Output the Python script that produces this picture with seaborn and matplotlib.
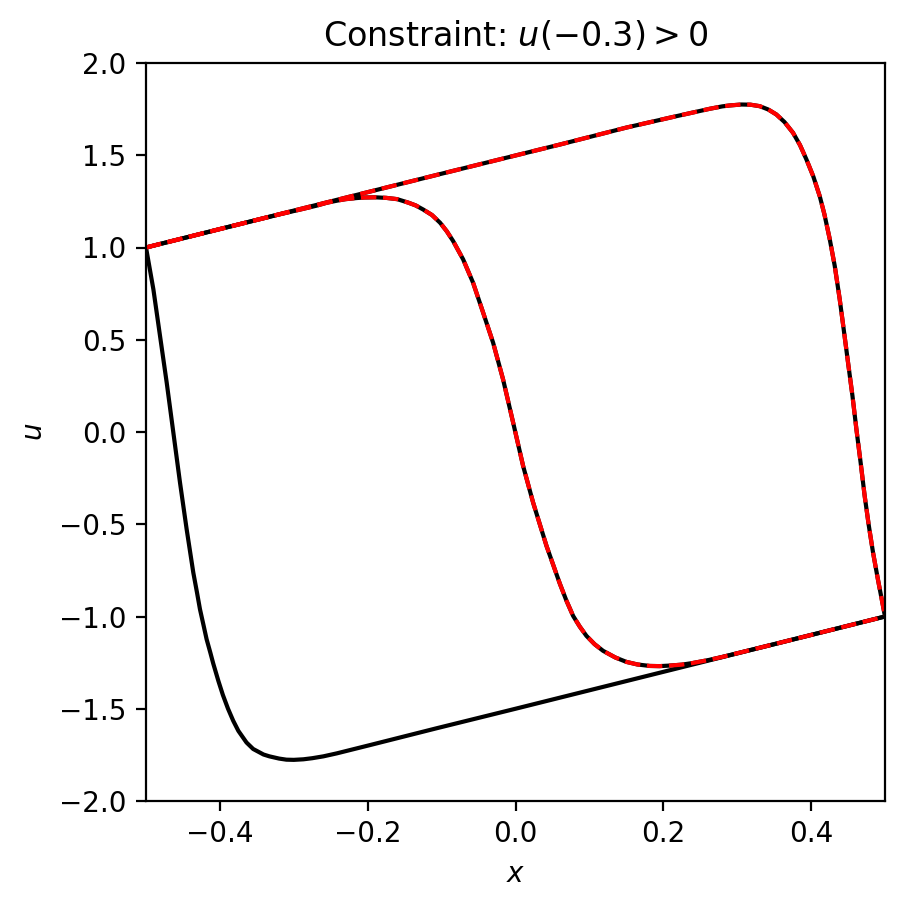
import pandas as pd
import matplotlib
matplotlib.use("Agg")
import matplotlib.pyplot as plt
import seaborn as sns

# curve with the interface near the left boundary (black only)
x_a = [-0.5, -0.49, -0.481, -0.472, -0.463, -0.454, -0.445, -0.436, -0.431,
       -0.427, -0.422, -0.418, -0.413, -0.409, -0.402, -0.396, -0.389, -0.382,
       -0.375, -0.364, -0.355, -0.341, -0.333, -0.32, -0.31, -0.3, -0.287,
       -0.275, -0.26, -0.242, -0.197, -0.107, 0.0, 0.2, 0.5]
u_a = [1.0, 0.773, 0.52, 0.268, -0.003, -0.274, -0.527, -0.762, -0.87,
       -0.96, -1.05, -1.123, -1.195, -1.255, -1.35, -1.425, -1.5, -1.565,
       -1.62, -1.683, -1.718, -1.748, -1.758, -1.77, -1.776, -1.777, -1.774,
       -1.768, -1.758, -1.742, -1.697, -1.606, -1.5, -1.3, -1.0]

# curve with the interface in the middle
x_b = [-0.5, -0.4, -0.319, -0.29, -0.27, -0.255, -0.24, -0.23, -0.215, -0.205,
       -0.19, -0.175, -0.16, -0.145, -0.135, -0.125, -0.113, -0.102, -0.093,
       -0.0844, -0.0709, -0.0574, -0.0438, -0.0303, -0.0168, -0.0032, 0.0103,
       0.0238, 0.042, 0.06, 0.069, 0.078, 0.087, 0.096, 0.107, 0.1185, 0.135,
       0.15, 0.165, 0.1817, 0.195, 0.2087, 0.225, 0.24, 0.26, 0.28, 0.35,
       0.42, 0.5]
u_b = [1.0, 1.1, 1.18, 1.207, 1.226, 1.243, 1.255, 1.262, 1.268, 1.271,
       1.272, 1.269, 1.262, 1.243, 1.228, 1.206, 1.176, 1.134, 1.088,
       1.035, 0.936, 0.809, 0.647, 0.484, 0.285, 0.051, -0.184,
       -0.382, -0.618, -0.822, -0.915, -0.997, -1.055, -1.105, -1.15, -1.186, -1.222,
       -1.246, -1.26, -1.268, -1.269, -1.266, -1.261, -1.252, -1.237, -1.219, -1.15,
       -1.08, -1.0]

# curve with the interface near the right boundary
x_c = [-0.5, -0.3, -0.1, 0.06, 0.15, 0.218, 0.263, 0.28, 0.29, 0.3057, 0.318,
       0.3305, 0.342, 0.353, 0.364, 0.3755, 0.385, 0.3937, 0.403, 0.4117,
       0.418, 0.425, 0.432, 0.4387, 0.444, 0.45, 0.456, 0.4613, 0.467, 0.4725,
       0.478, 0.4838, 0.49, 0.4951, 0.5]
u_c = [1.0, 1.2, 1.4, 1.558, 1.65, 1.712, 1.752, 1.765, 1.77, 1.775, 1.774,
       1.766, 1.748, 1.721, 1.68, 1.622, 1.555, 1.477, 1.385, 1.278,
       1.18, 1.05, 0.9, 0.72, 0.56, 0.376, 0.195, 0.015, -0.165, -0.347,
       -0.505, -0.653, -0.79, -0.897, -1.0]

df_a = pd.DataFrame({"x": x_a, "u": u_a})
df_b = pd.DataFrame({"x": x_b, "u": u_b})
df_c = pd.DataFrame({"x": x_c, "u": u_c})

fig = plt.figure(figsize=(905 / 200, 909 / 200), dpi=200)
ax = fig.add_axes([146 / 905, 108 / 909, 739 / 905, 738 / 909])

# all solutions in black
for d in [df_a, df_b, df_c]:
    sns.lineplot(data=d, x="x", y="u", color="black", lw=1.5,
                 estimator=None, sort=False, ax=ax)

# solutions satisfying the constraint, red dashed on top
for d in [df_b, df_c]:
    sns.lineplot(data=d, x="x", y="u", color="red", lw=1.5, linestyle="--",
                 estimator=None, sort=False, ax=ax)

ax.set_xlim(-0.5, 0.5)
ax.set_ylim(-2.0, 2.0)
ax.set_title(r"Constraint: $u(-0.3) > 0$")
ax.set_xlabel("$x$")
ax.set_ylabel("$u$")

fig.savefig("out.png", dpi=200)
